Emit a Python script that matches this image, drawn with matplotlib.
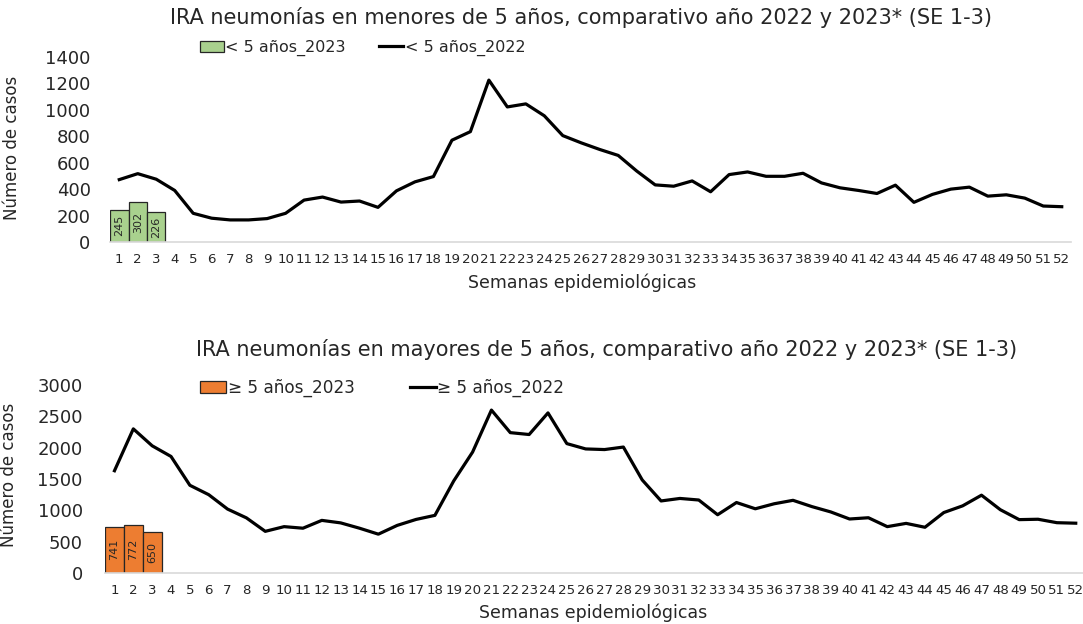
import numpy as np
import matplotlib
matplotlib.use("Agg")
from matplotlib import pyplot as plt

plt.rcParams['font.family'] = ['DejaVu Sans']

semanas = list(range(1, 53))

# < 5 años
menores_2022 = [472, 517, 475, 390, 217, 180, 167, 167, 177, 217,
                317, 340, 302, 310, 262, 387, 455, 495, 770, 835,
                1225, 1022, 1045, 955, 805, 750, 700, 655, 537, 432,
                422, 462, 380, 510, 530, 497, 497, 520, 447, 410,
                390, 367, 430, 300, 360, 400, 415, 347, 357, 332,
                272, 267]
menores_2023 = [245, 302, 226]

# >= 5 años
mayores_2022 = [1632, 2300, 2030, 1860, 1400, 1250, 1020, 880, 665, 740,
                715, 840, 800, 715, 620, 760, 855, 920, 1470, 1930,
                2600, 2240, 2210, 2555, 2065, 1980, 1970, 2010, 1485, 1150,
                1190, 1165, 930, 1125, 1025, 1105, 1160, 1060, 975, 862,
                882, 740, 792, 730, 965, 1072, 1242, 1010, 852, 858,
                803, 795]
mayores_2023 = [741, 772, 650]

fig = plt.figure(figsize=(10.83, 6.24), dpi=100)

def panel(rect, linea, barras, color, ymax, ystep, lab23, lab22, title,
          title_xy, leg_y, ylab_xy, ypad, xlab_xy, leg_fs, colsp):
    ax = fig.add_axes(rect)
    x = np.array(semanas)
    b = ax.bar(x[:len(barras)], barras, width=1.0, color=color,
               edgecolor='#262626', linewidth=0.9, zorder=2)
    for xi, v in zip(x, barras):
        ax.text(xi, v / 2, str(v), rotation=90, ha='center', va='center',
                fontsize=8, color='#262626', zorder=3)
    l, = ax.plot(x, linea, color='black', linewidth=2.3, zorder=4)
    ax.set_xlim(0.5, 52.5)
    ax.set_ylim(0, ymax)
    ax.set_yticks(np.arange(0, ymax + 1, ystep))
    ax.set_xticks(x)
    ax.set_xticklabels([str(s) for s in semanas], fontsize=9.6)
    ax.tick_params(axis='x', length=0, pad=8, labelcolor='#262626')
    ax.tick_params(axis='y', length=0, pad=ypad, labelsize=13, labelcolor='#262626')
    for s in ['top', 'right', 'left']:
        ax.spines[s].set_visible(False)
    ax.spines['bottom'].set_color('#d9d9d9')
    ax.spines['bottom'].set_linewidth(1.2)
    ax.set_xlabel('Semanas epidemiológicas', fontsize=12.5, color='#262626')
    ax.xaxis.set_label_coords(xlab_xy[0], xlab_xy[1], transform=fig.transFigure)
    ax.set_ylabel('Número de casos', fontsize=12, color='#262626')
    ax.yaxis.set_label_coords(ylab_xy[0], ylab_xy[1], transform=fig.transFigure)
    fig.text(title_xy[0], title_xy[1], title, ha='center', va='center',
             fontsize=15, color='#262626')
    ax.legend([b, l], [lab23, lab22], loc='center left',
              bbox_to_anchor=(0.171, leg_y),
              bbox_transform=fig.transFigure, ncol=2, frameon=False,
              fontsize=leg_fs, handlelength=1.5, handletextpad=0.1,
              columnspacing=colsp, labelcolor='#262626')
    return ax

ax1 = panel([0.1016, 0.6122, 0.8873, 0.2965], menores_2022, menores_2023,
            '#a9d18e', 1400, 200, '< 5 años_2023', '< 5 años_2022',
            'IRA neumonías en menores de 5 años, comparativo año 2022 y 2023* (SE 1-3)',
            (581 / 1083, 1 - 18 / 624), 1 - 48 / 624, (0.019, 1 - 148 / 624), 14,
            (582 / 1083, 1 - 274 / 624), 11.5, 2.1)

ax2 = panel([0.0970, 0.0817, 0.905, 0.3013], mayores_2022, mayores_2023,
            '#ed7d31', 3000, 500, '≥ 5 años_2023', '≥ 5 años_2022',
            'IRA neumonías en mayores de 5 años, comparativo año 2022 y 2023* (SE 1-3)',
            (607 / 1083, 1 - 350 / 624), 1 - 388 / 624, (0.017, 1 - 475 / 624), 16,
            (593 / 1083, 1 - 604 / 624), 12.2, 3.3)

fig.savefig('out.png', dpi=100)
